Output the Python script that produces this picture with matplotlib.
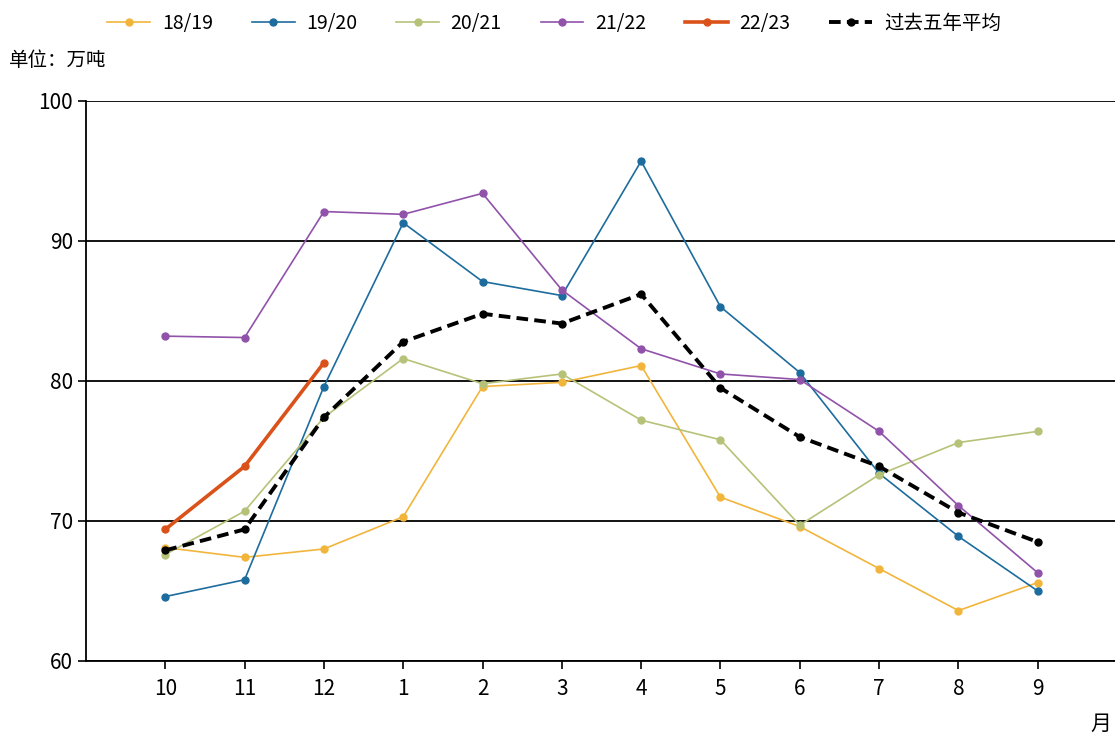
import matplotlib
matplotlib.use("Agg")
import matplotlib.pyplot as plt

plt.rcParams['font.family'] = ['Noto Sans CJK SC', 'DejaVu Sans']

# 月份（榨季从10月开始）
months = ['10', '11', '12', '1', '2', '3', '4', '5', '6', '7', '8', '9']

# 各榨季月度数据，单位：万吨
s1819 = [68.1, 67.4, 68.0, 70.3, 79.6, 79.9, 81.1, 71.7, 69.6, 66.6, 63.6, 65.6]
s1920 = [64.6, 65.8, 79.6, 91.3, 87.1, 86.1, 95.7, 85.3, 80.6, 73.4, 68.9, 65.0]
s2021 = [67.6, 70.7, 77.4, 81.6, 79.8, 80.5, 77.2, 75.8, 69.7, 73.3, 75.6, 76.4]
s2122 = [83.2, 83.1, 92.1, 91.9, 93.4, 86.5, 82.3, 80.5, 80.1, 76.4, 71.1, 66.3]
s2223 = [69.4, 73.9, 81.3]
avg5 = [67.9, 69.4, 77.4, 82.8, 84.8, 84.1, 86.2, 79.5, 76.0, 73.9, 70.6, 68.5]

fig = plt.figure(figsize=(11.15, 7.4), dpi=100)
ax = fig.add_axes([0.0771, 0.1068, 0.9247, 0.7568])

x = list(range(len(months)))
thin = dict(linewidth=1.2, marker='o', markersize=5)
l1, = ax.plot(x, s1819, color='#F2B53C', label='18/19', **thin)
l2, = ax.plot(x, s1920, color='#1D6C9E', label='19/20', **thin)
l3, = ax.plot(x, s2021, color='#B7C279', label='20/21', **thin)
l4, = ax.plot(x, s2122, color='#9152AA', label='21/22', **thin)
l5, = ax.plot(x[:len(s2223)], s2223, color='#DA5219', label='22/23',
              linewidth=2.6, marker='o', markersize=5)
l6, = ax.plot(x, avg5, color='black', label='过去五年平均', linewidth=2.8,
              linestyle=(0, (3, 1.6)), marker='o', markersize=5)

ax.set_xlim(-1, 12)
ax.set_ylim(60, 100)
ax.set_yticks([60, 70, 80, 90, 100])
ax.set_xticks(x)
ax.set_xticklabels(months)
ax.yaxis.grid(True, color='black', linewidth=1.3)
ax.set_axisbelow(True)
for side in ['top', 'right']:
    ax.spines[side].set_visible(False)
for side in ['left', 'bottom']:
    ax.spines[side].set_linewidth(1.3)
ax.tick_params(axis='both', labelsize=15, length=6, width=1.2, direction='out')
ax.tick_params(axis='x', pad=6)

fig.text(0.008, 0.918, '单位：万吨', fontsize=14, va='center', ha='left')
fig.text(0.978, 0.022, '月', fontsize=15, va='center', ha='left')

fig.legend(handles=[l1, l2, l3, l4, l5, l6], loc='center', ncol=6,
           bbox_to_anchor=(0.497, 0.968), frameon=False, fontsize=14,
           handlelength=2.2, columnspacing=2.0, handletextpad=0.6)

fig.savefig('out.png', dpi=100)
